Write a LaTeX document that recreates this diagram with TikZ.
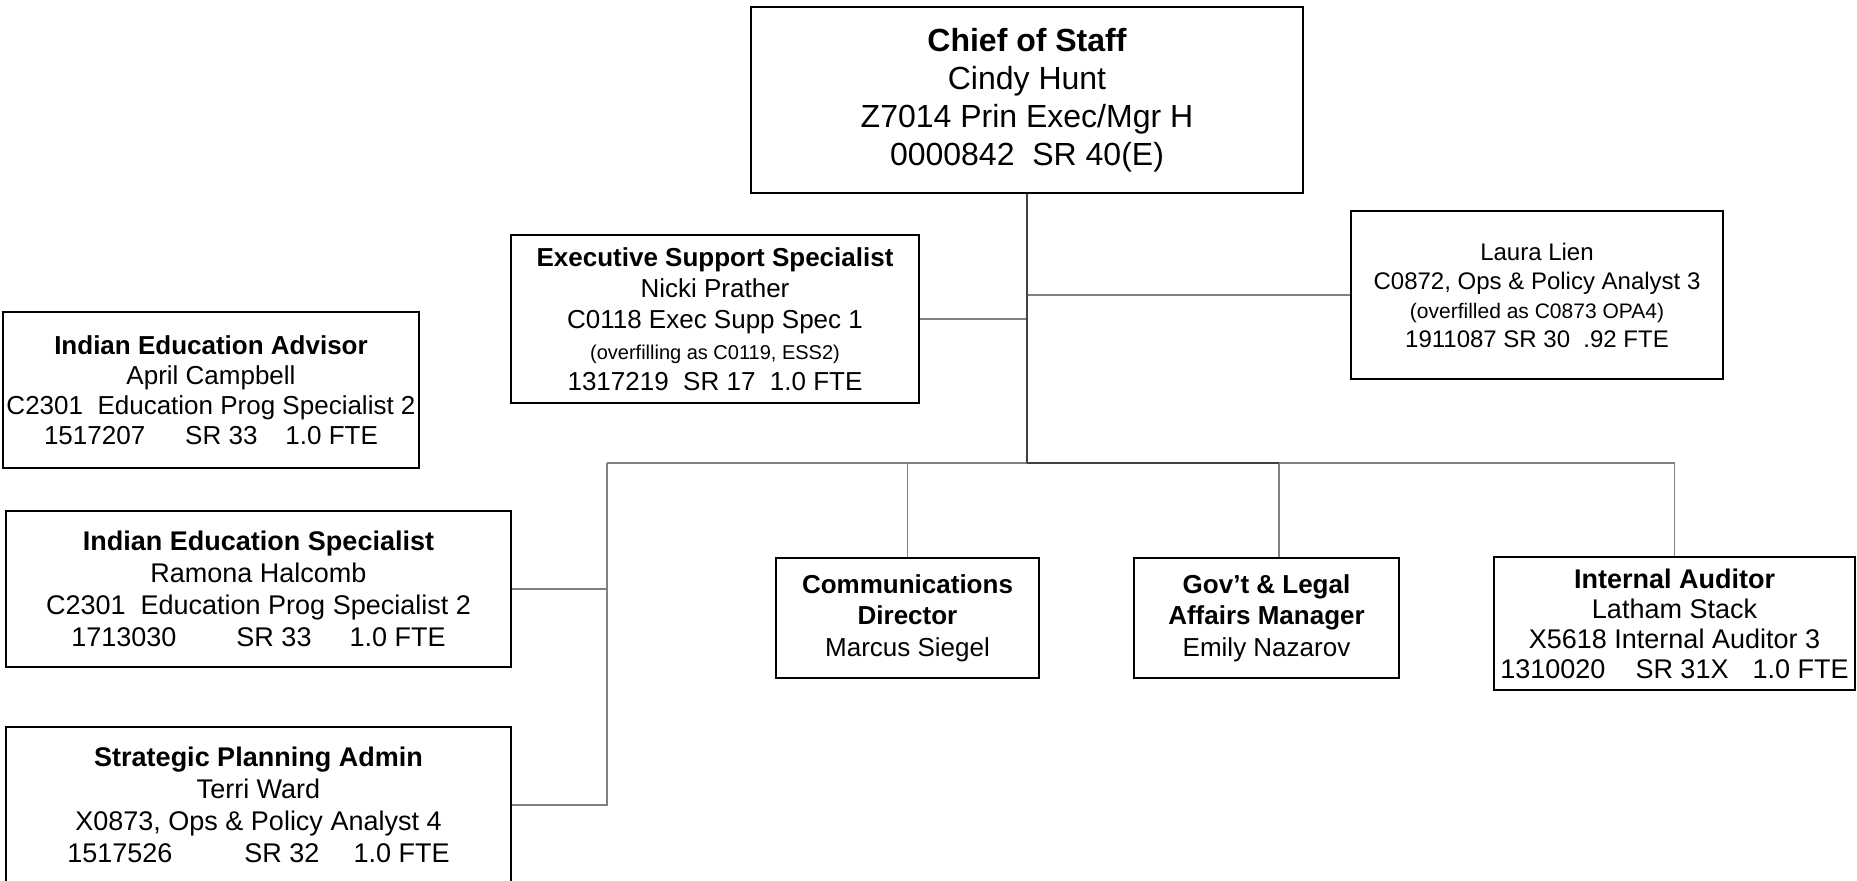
\documentclass[tikz,border=0pt]{standalone}
\usepackage{fontspec}
\setmainfont{Liberation Sans}
\begin{document}
\begin{tikzpicture}[x=0.5pt,y=-0.5pt,
  box/.style={draw=black, line width=1pt, fill=white, align=center, inner sep=0pt},
  link/.style={draw=black!50, line width=0.6pt},
  trunk/.style={draw=black!75, line width=0.7pt},
  big/.style={font=\fontsize{16}{19}\selectfont},
  std/.style={font=\fontsize{13}{15}\selectfont},
  stdwide/.style={font=\fontsize{13.5}{16}\selectfont},
  mid/.style={font=\fontsize{12}{14.5}\selectfont}]
\useasboundingbox (0,0) rectangle (1857,881);
\fill[white] (0,0) rectangle (1857,881);

% head of the office
\node[box, big, minimum width=276pt, minimum height=93pt] (chief) at (1027,100)
  {\textbf{Chief of Staff}\\Cindy Hunt\\Z7014 Prin Exec/Mgr H\\0000842\ \ SR 40(E)};

% staff positions beside the trunk
\node[box, font=\fontsize{13}{15.5}\selectfont, minimum width=204pt, minimum height=84pt] (ess) at (715,319)
  {\textbf{Executive Support Specialist}\\Nicki Prather\\C0118 Exec Supp Spec 1\\
   {\fontsize{10}{15.5}\selectfont (overfilling as C0119, ESS2)}\\1317219\ \ SR 17\ \ 1.0 FTE};
\node[box, mid, minimum width=186pt, minimum height=84pt] (laura) at (1537,295)
  {Laura Lien\\C0872, Ops \& Policy Analyst 3\\
   {\fontsize{10.5}{14.5}\selectfont (overfilled as C0873 OPA4)}\\1911087 SR 30\ \ .92 FTE};

% left column
\node[box, std, minimum width=208pt, minimum height=78pt] (iea) at (211,390)
  {\textbf{Indian Education Advisor}\\April Campbell\\C2301\ \ Education Prog Specialist 2\\
   1517207\hspace{20pt}SR 33\hspace{14pt}1.0 FTE};
\node[box, stdwide, minimum width=252.5pt, minimum height=78pt] (ies) at (258.5,589)
  {\textbf{Indian Education Specialist}\\Ramona Halcomb\\C2301\ \ Education Prog Specialist 2\\
   1713030\hspace{30pt}SR 33\hspace{19pt}1.0 FTE};
\node[box, stdwide, minimum width=252.5pt, minimum height=78pt] (spa) at (258.5,805)
  {\textbf{Strategic Planning Admin}\\Terri Ward\\X0873, Ops \& Policy Analyst 4\\
   1517526\hspace{36pt}SR 32\hspace{17pt}1.0 FTE};

% direct reports below the bus
\node[box, font=\fontsize{13}{15.75}\selectfont, minimum width=131.5pt, minimum height=60pt] (comm) at (907.5,618)
  {\textbf{Communications}\\\textbf{Director}\\Marcus Siegel};
\node[box, font=\fontsize{13}{15.75}\selectfont, minimum width=132.5pt, minimum height=60pt] (gov) at (1266.5,618)
  {\textbf{Gov’t \& Legal}\\\textbf{Affairs Manager}\\Emily Nazarov};
\node[box, stdwide, font=\fontsize{13.5}{15}\selectfont, minimum width=180.5pt, minimum height=66.5pt] (ia) at (1674.5,623.5)
  {\textbf{Internal Auditor}\\Latham Stack\\X5618 Internal Auditor 3\\
   1310020\hspace{15pt}SR 31X\hspace{12pt}1.0 FTE};

% bus points
\coordinate (hub) at (1027,463);
\coordinate (busL) at (607,463);
\coordinate (busR) at (1674.5,463);
\coordinate (govtap) at (1279,463);

% connectors
\draw[link] (busL) -- (busR);
\draw[link] (busL) |- (spa.east);
\draw[link] (ies.east) -- (ies.east -| busL);
\draw[link] (comm.north) -- (comm.north |- hub);
\draw[link] (govtap) -- (govtap |- gov.north);
\draw[link] (busR) -- (ia.north);
\draw[link] (ess.east) -- (ess.east -| chief.south);
\draw[link] (laura.west) -- (laura.west -| chief.south);
\draw[trunk] (hub) -- (govtap);
\draw[trunk] (chief.south) -- (hub);
\end{tikzpicture}
\end{document}
